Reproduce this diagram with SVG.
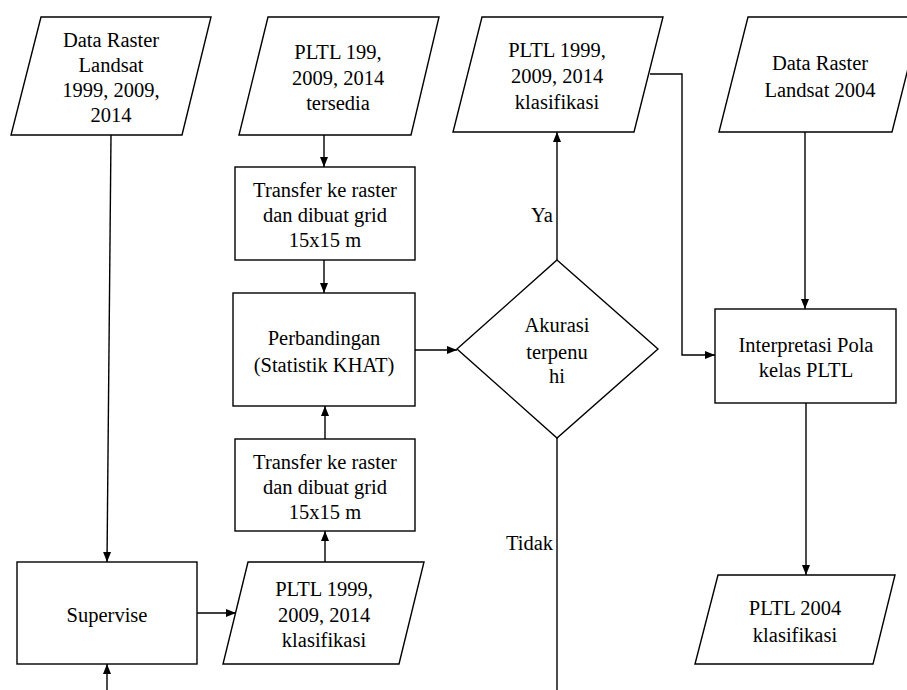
<svg xmlns="http://www.w3.org/2000/svg" width="907" height="690" viewBox="0 0 907 690">
<style>
.s{fill:#fff;stroke:#000;stroke-width:1.4}
.c{fill:none;stroke:#000;stroke-width:1.4}
</style>
<defs>
<marker id="a" viewBox="0 0 10 10" refX="10" refY="5" markerWidth="10" markerHeight="10" markerUnits="userSpaceOnUse" orient="auto">
<path d="M0,1 L10,5 L0,9 Z" fill="#000"/>
</marker>
</defs>
<rect width="907" height="690" fill="#fff"/>
<g font-family="Liberation Serif, serif" font-size="20.5" text-anchor="middle" fill="#000">
<g id="connectors">
<path class="c" d="M111,135 L107,562" marker-end="url(#a)"/>
<path class="c" d="M324,135 L324,167" marker-end="url(#a)"/>
<path class="c" d="M324,260 L324,293" marker-end="url(#a)"/>
<path class="c" d="M415,350 L457,350" marker-end="url(#a)"/>
<path class="c" d="M325,439 L325,406" marker-end="url(#a)"/>
<path class="c" d="M325,562 L325,531" marker-end="url(#a)"/>
<path class="c" d="M197,613 L236,613" marker-end="url(#a)"/>
<path class="c" d="M107,690 L107,664" marker-end="url(#a)"/>
<path class="c" d="M557,260 L557,132" marker-end="url(#a)"/>
<path class="c" d="M557,438 L557,690"/>
<path class="c" d="M650,74 L682,74 L682,355 L715,355" marker-end="url(#a)"/>
<path class="c" d="M805,132 L805,309" marker-end="url(#a)"/>
<path class="c" d="M806,403 L806,575" marker-end="url(#a)"/>
<text x="542" y="222">Ya</text>
<text x="553" y="550" text-anchor="end">Tidak</text>
</g>
<g id="data-raster-landsat">
<polygon class="s" points="41,17 211,17 182,135 11,135"/>
<text x="111" y="47">Data Raster</text>
<text x="111" y="72">Landsat</text>
<text x="111" y="97">1999, 2009,</text>
<text x="111" y="122">2014</text>
</g>
<g id="pltl-tersedia">
<polygon class="s" points="268,17 439,17 411,135 239,135"/>
<text x="338" y="59">PLTL 199,</text>
<text x="338" y="85">2009, 2014</text>
<text x="338" y="110">tersedia</text>
</g>
<g id="transfer-1">
<rect class="s" x="235" y="167" width="180" height="93"/>
<text x="325" y="197">Transfer ke raster</text>
<text x="325" y="222">dan dibuat grid</text>
<text x="325" y="247">15x15 m</text>
</g>
<g id="perbandingan">
<rect class="s" x="233" y="293" width="182" height="113"/>
<text x="324" y="345">Perbandingan</text>
<text x="324" y="372">(Statistik KHAT)</text>
</g>
<g id="transfer-2">
<rect class="s" x="235" y="439" width="180" height="92"/>
<text x="325" y="469">Transfer ke raster</text>
<text x="325" y="494">dan dibuat grid</text>
<text x="325" y="519">15x15 m</text>
</g>
<g id="supervise">
<rect class="s" x="17" y="562" width="180" height="102"/>
<text x="107" y="622">Supervise</text>
</g>
<g id="pltl-klasifikasi-1">
<polygon class="s" points="248,562 424,562 399,664 223,664"/>
<text x="324" y="596">PLTL 1999,</text>
<text x="324" y="622">2009, 2014</text>
<text x="324" y="647">klasifikasi</text>
</g>
<g id="akurasi">
<polygon class="s" points="557,260 658,349 557,438 457,349"/>
<text x="557" y="332">Akurasi</text>
<text x="557" y="359">terpenu</text>
<text x="557" y="383">hi</text>
</g>
<g id="pltl-klasifikasi-2">
<polygon class="s" points="482,17 663,17 634,132 453,132"/>
<text x="557" y="57">PLTL 1999,</text>
<text x="557" y="83">2009, 2014</text>
<text x="557" y="109">klasifikasi</text>
</g>
<g id="data-raster-2004">
<polygon class="s" points="748,17 921,17 892,132 719,132"/>
<text x="820" y="70">Data Raster</text>
<text x="820" y="97">Landsat 2004</text>
</g>
<g id="interpretasi">
<rect class="s" x="715" y="309" width="181" height="94"/>
<text x="806" y="352">Interpretasi Pola</text>
<text x="806" y="377">kelas PLTL</text>
</g>
<g id="pltl-2004">
<polygon class="s" points="718,575 895,575 873,664 695,664"/>
<text x="795" y="615">PLTL 2004</text>
<text x="795" y="642">klasifikasi</text>
</g>
</g>
</svg>
